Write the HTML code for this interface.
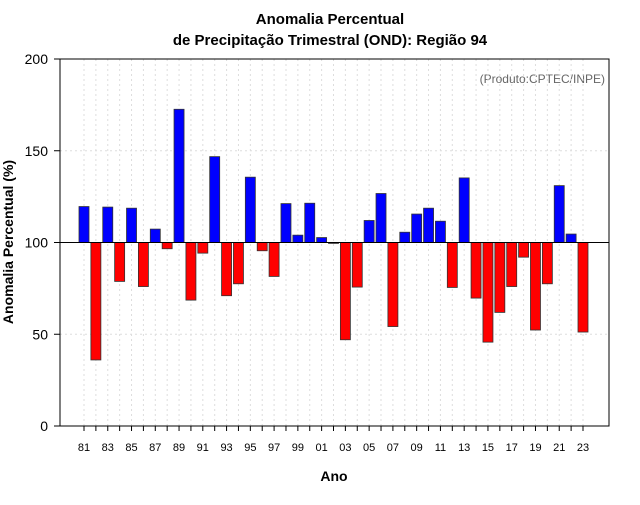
<!DOCTYPE html>
<html><head><meta charset="utf-8"><style>
body{margin:0;background:#fff;}
svg text{font-family:"Liberation Sans",sans-serif;}
</style></head><body>
<svg id="c" width="640" height="500" xmlns="http://www.w3.org/2000/svg">
<text x="330" y="24" text-anchor="middle" font-size="15" font-weight="bold">Anomalia Percentual</text>
<text x="330" y="45" text-anchor="middle" font-size="15" font-weight="bold">de Precipitação Trimestral (OND): Região 94</text>
<text x="605" y="83" text-anchor="end" font-size="12" fill="#666">(Produto:CPTEC/INPE)</text>
<text x="334" y="481" text-anchor="middle" font-size="14" font-weight="bold">Ano</text>
<text transform="translate(13,242) rotate(-90)" text-anchor="middle" font-size="14" font-weight="bold">Anomalia Percentual (%)</text>
<g id="grid"></g><g id="bars"></g><g id="axes"></g>
</svg>
<script>
const years=[81,82,83,84,85,86,87,88,89,90,91,92,93,94,95,96,97,98,99,0,1,2,3,4,5,6,7,8,9,10,11,12,13,14,15,16,17,18,19,20,21,22,23];
const values=[119.6,36,119.3,78.8,118.7,76,107.3,96.6,172.6,68.6,94.2,146.8,71,77.5,135.6,95.5,81.5,121.2,104,121.4,102.7,99.5,47,75.7,112,126.7,54.2,105.6,115.5,118.7,111.6,75.5,135.2,69.7,45.7,61.9,76,92,52.3,77.5,131,104.6,51.2];
const yTicks=[0,50,100,150,200];
const NS="http://www.w3.org/2000/svg";
const L=60,R=609,T=59,B=426;
const y=v=>B-(v/200)*(B-T);
const x=i=>84+i*(583-84)/42;
function mk(t,a,p){const e=document.createElementNS(NS,t);for(const k in a)e.setAttribute(k,a[k]);p.appendChild(e);return e;}
const g=document.getElementById('grid'),bg=document.getElementById('bars'),ax=document.getElementById('axes');
for(let i=0;i<years.length;i++){const l=mk('line',{x1:x(i),x2:x(i),y1:T,y2:B,stroke:'#ddd','stroke-dasharray':'2,3'},g);

}
yTicks.forEach(v=>{const l=mk('line',{x1:L,x2:R,y1:y(v),y2:y(v),stroke:'#ddd','stroke-dasharray':'2,3'},g);


const tk=mk('line',{x1:L-6,x2:L,y1:y(v),y2:y(v),stroke:'#000'},ax);


const t=mk('text',{x:L-12,y:y(v)+5,'text-anchor':'end','font-size':'14'},ax);t.textContent=v;

});
values.forEach((v,i)=>{const top=Math.min(y(v),y(100)),h=Math.abs(y(v)-y(100));
const r=mk('rect',{x:x(i)-5,y:top,width:10,height:Math.max(h,0.8),fill:v>=100?'#0000ff':'#ff0000',stroke:'#333','stroke-width':'0.8'},bg);


const tk=mk('line',{x1:x(i),x2:x(i),y1:B,y2:B+5,stroke:'#000'},ax);


if(i%2===0){const t=mk('text',{x:x(i),y:B+25,'text-anchor':'middle','font-size':'11'},ax);t.textContent=String(years[i]).padStart(2,'0');

}});
const base=mk('line',{x1:L,x2:R,y1:y(100),y2:y(100),stroke:'#000','stroke-width':'1'},ax);


const box=mk('rect',{x:L,y:T,width:R-L,height:B-T,fill:'none',stroke:'#000'},ax);


</script>
</body></html>
